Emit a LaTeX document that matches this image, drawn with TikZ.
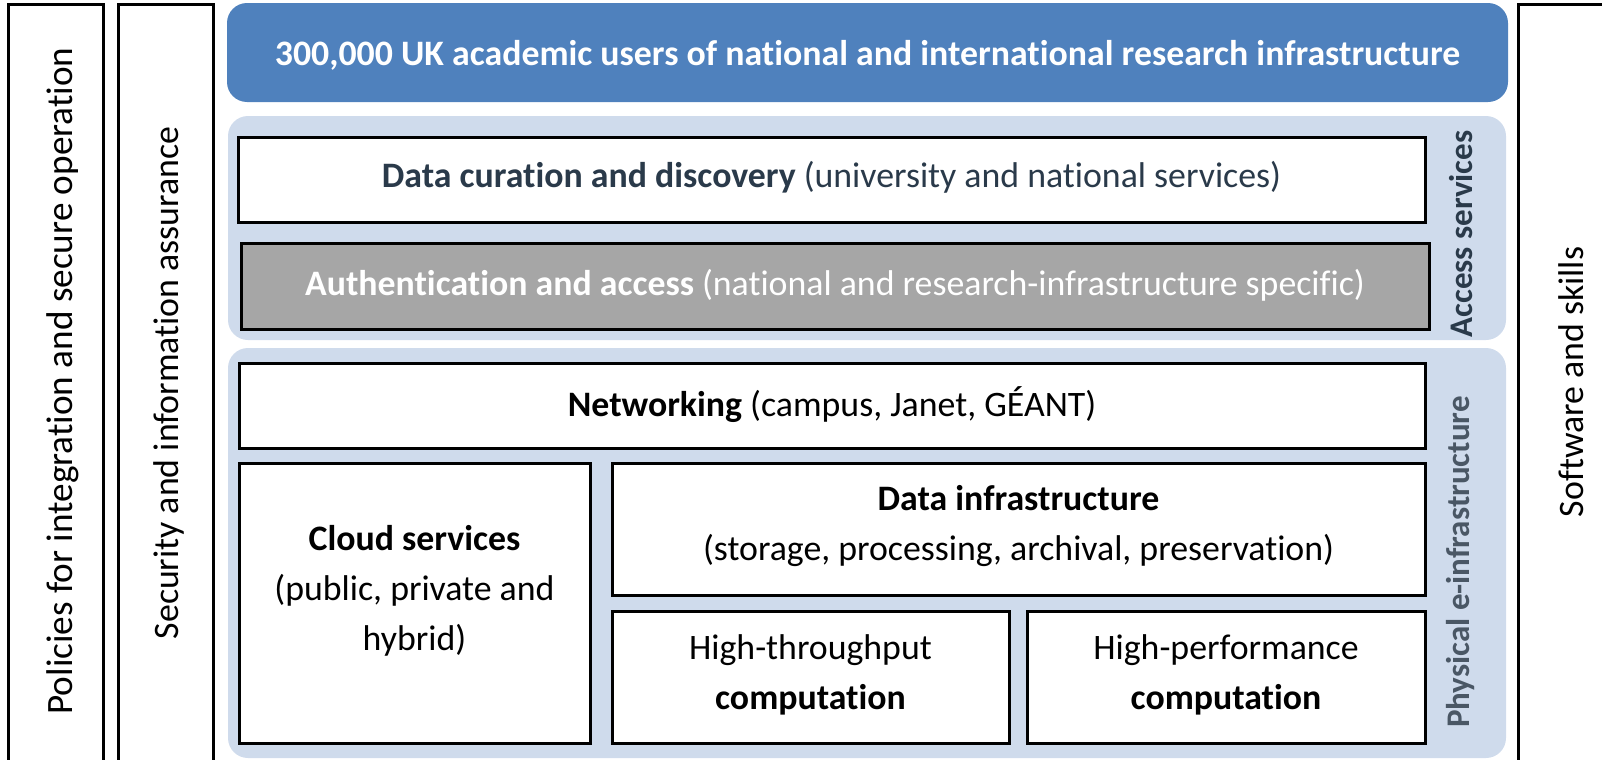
\documentclass[tikz,border=0pt]{standalone}
\usepackage{fontspec}
\setmainfont{Carlito}[Ligatures=NoCommon]

\definecolor{userblue}{HTML}{4F81BD}
\definecolor{panelblue}{HTML}{CFDBEC}
\definecolor{authgray}{HTML}{A6A6A6}
\definecolor{slate}{HTML}{2A3A4A}

\begin{document}
\begin{tikzpicture}[x=0.5pt, y=-0.5pt,
  box/.style={draw=black, line width=1.5pt, fill=white},
  panel/.style={fill=panelblue, rounded corners=10pt},
  txt/.style={font=\fontsize{17.9}{25}\selectfont, align=center, inner sep=0pt},
  side/.style={txt, rotate=90},
  sidebold/.style={side, font=\fontsize{16.5}{25}\selectfont\bfseries}]

 \useasboundingbox (0,0) rectangle (1602,760);
 \clip (0,0) rectangle (1602,760);

 % bars at the sides
 \draw[line width=1.5pt] (8,4) rectangle (103,800);
 \draw[line width=1.5pt] (118,4) rectangle (213,800);
 \draw[line width=1.5pt] (1518,4) rectangle (1650,800);
 \node[side, font=\fontsize{18.6}{25}\selectfont] (policies) at (63,381)
   {Policies for integration and secure operation};
 \node[side] (security) at (169,383) {Security and information assurance};
 \node[side] (software) at (1571,382) {Software and skills};

 % users
 \fill[userblue, rounded corners=10pt] (227,3) rectangle (1508,102);
 \node[txt, white, font=\fontsize{17.9}{25}\selectfont\bfseries] (users) at (867.5,55)
   {300,000 UK academic users of national and international research infrastructure};

 % access services
 \fill[panel] (228,116) rectangle (1506,340);
 \draw[box] (238,137) rectangle (1425,222);
 \node[txt, slate] (curation) at (831.5,177)
   {\textbf{Data curation and discovery} (university and national services)};
 \draw[box, fill=authgray] (241,243) rectangle (1429,329);
 \node[txt, white] (auth) at (835,285)
   {\textbf{Authentication and access} (national and research-infrastructure specific)};
 \node[sidebold, slate] (access) at (1461,234) {Access services};

 % physical e-infrastructure
 \fill[panel] (228,348) rectangle (1506,758);
 \draw[box] (239,363) rectangle (1425,448);
 \node[txt] (network) at (832,405) {\textbf{Networking} (campus, Janet, GÉANT)};
 \draw[box] (239,463) rectangle (590,743);
 \node[txt] (cloud) at (414.5,591) {\textbf{Cloud services}\\(public, private and\\hybrid)};
 \draw[box] (612,463) rectangle (1425,595);
 \node[txt] (datainfra) at (1018.5,526)
   {\textbf{Data infrastructure}\\(storage, processing, archival, preservation)};
 \draw[box] (612,611) rectangle (1009,743);
 \node[txt] (throughput) at (810.5,675) {High-throughput\\\textbf{computation}};
 \draw[box] (1027,611) rectangle (1425,743);
 \node[txt] (performance) at (1226,675) {High-performance\\\textbf{computation}};
 \node[sidebold, slate!85] (physical) at (1461,562) {Physical e-infrastructure};
\end{tikzpicture}
\end{document}
